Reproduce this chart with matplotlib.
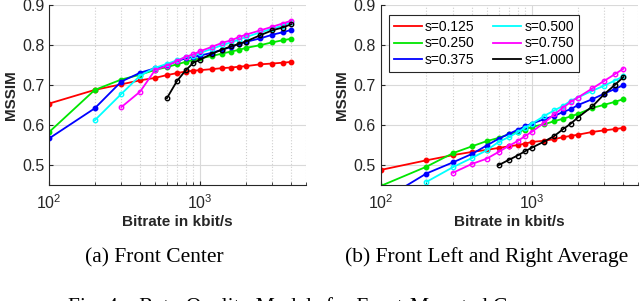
import numpy as np
import matplotlib
matplotlib.use('Agg')
import matplotlib.pyplot as plt
from matplotlib.lines import Line2D

plt.rcParams['font.family'] = 'Liberation Sans'

# bitrates in kbit/s
rates = [100, 200, 300, 400, 500, 600, 700, 800, 900, 1000, 1200, 1400, 1600, 1800, 2000, 2500, 3000, 3500, 4000]

labels = ['s=0.125', 's=0.250', 's=0.375', 's=0.500', 's=0.750', 's=1.000']
colors = ['#ff0000', '#00e600', '#0000ff', '#00ffff', '#ff00ff', '#000000']
starts = [100, 100, 100, 200, 300, 600]

# (a) front center
center_s0125 = [0.654, 0.688, 0.702, 0.712, 0.718, 0.725, 0.730, 0.734, 0.736, 0.7375, 0.740, 0.7425, 0.744, 0.746, 0.7475, 0.752, 0.754, 0.756, 0.758]
center_s0250 = [0.583, 0.688, 0.714, 0.726, 0.738, 0.745, 0.752, 0.758, 0.763, 0.767, 0.773, 0.779, 0.784, 0.788, 0.793, 0.800, 0.807, 0.812, 0.816]
center_s0375 = [0.567, 0.642, 0.709, 0.731, 0.742, 0.749, 0.760, 0.767, 0.771, 0.774, 0.781, 0.789, 0.795, 0.803, 0.808, 0.817, 0.826, 0.832, 0.838]
center_s0500 = [0.612, 0.678, 0.724, 0.743, 0.753, 0.762, 0.770, 0.774, 0.781, 0.791, 0.800, 0.807, 0.814, 0.820, 0.832, 0.841, 0.849, 0.857]
center_s0750 = [0.645, 0.684, 0.737, 0.749, 0.760, 0.771, 0.777, 0.785, 0.796, 0.806, 0.812, 0.820, 0.826, 0.837, 0.846, 0.854, 0.861]
center_s1000 = [0.667, 0.710, 0.737, 0.756, 0.764, 0.779, 0.789, 0.797, 0.803, 0.809, 0.825, 0.837, 0.844, 0.852]

# (b) front left / right average
side_s0125 = [0.488, 0.512, 0.525, 0.533, 0.538, 0.543, 0.547, 0.550, 0.554, 0.558, 0.561, 0.565, 0.570, 0.573, 0.576, 0.583, 0.587, 0.590, 0.593]
side_s0250 = [0.448, 0.496, 0.530, 0.547, 0.560, 0.568, 0.577, 0.583, 0.589, 0.596, 0.602, 0.610, 0.616, 0.622, 0.628, 0.643, 0.651, 0.658, 0.665]
side_s0375 = [0.410, 0.479, 0.507, 0.528, 0.549, 0.566, 0.578, 0.588, 0.597, 0.604, 0.615, 0.623, 0.633, 0.640, 0.650, 0.665, 0.679, 0.690, 0.700]
side_s0500 = [0.458, 0.495, 0.518, 0.537, 0.558, 0.570, 0.582, 0.594, 0.604, 0.623, 0.637, 0.648, 0.661, 0.669, 0.686, 0.699, 0.711, 0.722]
side_s0750 = [0.481, 0.503, 0.516, 0.533, 0.548, 0.560, 0.573, 0.584, 0.606, 0.627, 0.644, 0.658, 0.669, 0.692, 0.711, 0.727, 0.741]
side_s1000 = [0.500, 0.513, 0.524, 0.535, 0.544, 0.559, 0.573, 0.590, 0.604, 0.619, 0.647, 0.678, 0.700, 0.720]

center = [center_s0125, center_s0250, center_s0375, center_s0500, center_s0750, center_s1000]
side = [side_s0125, side_s0250, side_s0375, side_s0500, side_s0750, side_s1000]

fig = plt.figure(figsize=(6.4, 3.01), dpi=100)
ax1 = fig.add_axes([0.077, 0.385, 0.401, 0.598])
ax2 = fig.add_axes([0.595, 0.385, 0.402, 0.598])

dark = '#262626'
for ax, data in [(ax1, center), (ax2, side)]:
    for i, vals in enumerate(data):
        x = [r for r in rates if r >= starts[i]]
        filled = i < 3
        ax.plot(x, vals, color=colors[i], lw=1.3, marker='o', ms=3.2,
                mfc=colors[i] if filled else 'none', mew=1.0)
    ax.set_xscale('log')
    ax.set_xlim(100, 5000)
    ax.set_ylim(0.45, 0.9)
    ax.set_yticks([0.5, 0.6, 0.7, 0.8, 0.9])
    ax.grid(True, which='major', color='#d9d9d9', lw=0.8, ls='-')
    ax.grid(True, which='minor', axis='x', color='#cfcfcf', lw=0.8, ls=':')
    ax.set_axisbelow(True)
    for sp in ['top', 'right']:
        ax.spines[sp].set_visible(False)
    for sp in ['left', 'bottom']:
        ax.spines[sp].set_color(dark)
        ax.spines[sp].set_linewidth(0.8)
    ax.tick_params(which='both', direction='in', colors=dark, labelsize=11.5, labelcolor=dark)
    ax.tick_params(which='major', length=3)
    ax.tick_params(which='minor', length=2)
    ax.tick_params(axis='x', pad=6)
    ax.set_xlabel('Bitrate in kbit/s', fontsize=11, fontweight='bold', color=dark, labelpad=2)
    ax.set_ylabel('MSSIM', fontsize=11, fontweight='bold', color=dark, labelpad=3)

handles = [Line2D([], [], color=c, lw=1.3) for c in colors]
leg = ax2.legend(handles, labels, ncol=2,
                 loc='upper left', bbox_to_anchor=(0.005, 0.985), fontsize=10,
                 frameon=True, fancybox=False, framealpha=1, edgecolor=dark,
                 handlelength=2.0, handletextpad=0.25, columnspacing=1.3,
                 labelspacing=0.2, borderpad=0.35)
leg.get_frame().set_linewidth(0.8)

fig.text(0.2414, 0.1296, '(a) Front Center', ha='center', va='baseline',
         fontsize=15.5, family='Liberation Serif')
fig.text(0.760, 0.1296, '(b) Front Left and Right Average', ha='center', va='baseline',
         fontsize=15.5, family='Liberation Serif')
fig.text(0.497, -0.037, 'Fig. 4.   Rate-Quality Models for Front-Mounted Cameras', ha='center',
         va='baseline', fontsize=15.5, family='Liberation Serif')

fig.savefig('out.png', dpi=100)
